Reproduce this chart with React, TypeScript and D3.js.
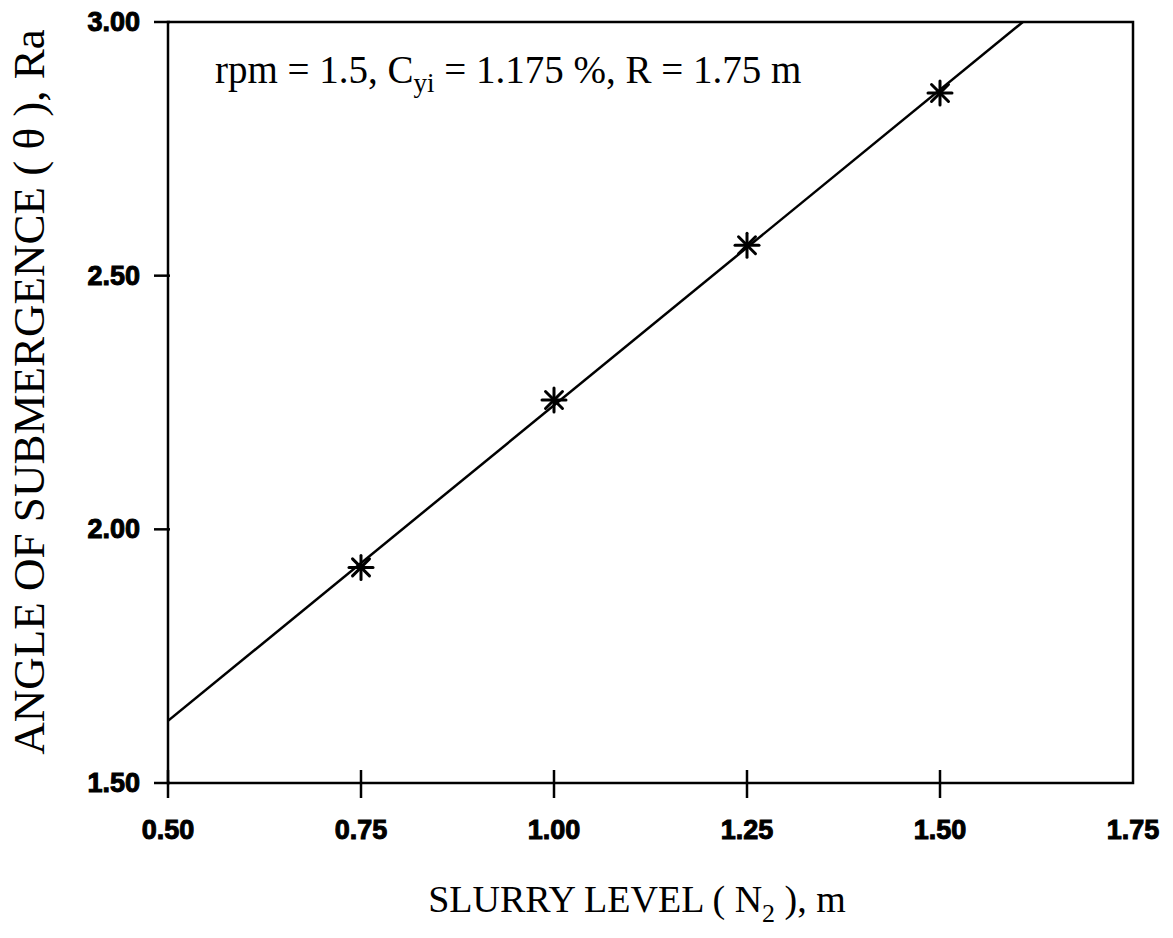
import * as d3 from "d3";

// measured points: slurry level (m) vs angle of submergence (Ra)
const slurryLevel = [0.75, 1.0, 1.25, 1.5];
const angleRa = [1.925, 2.255, 2.56, 2.86];

const xTicks = [0.5, 0.75, 1.0, 1.25, 1.5, 1.75];
const yTicks = [1.5, 2.0, 2.5, 3.0];

const W = 1173;
const H = 938;

export default function App() {
  const x = d3.scaleLinear().domain([0.5, 1.75]).range([168, 1133]);
  const y = d3.scaleLinear().domain([1.5, 3.0]).range([783, 22]);

  // least squares fit through the points
  const mx = d3.mean(slurryLevel) as number;
  const my = d3.mean(angleRa) as number;
  const sxy = d3.sum(slurryLevel, (v, i) => (v - mx) * (angleRa[i] - my));
  const sxx = d3.sum(slurryLevel, (v) => (v - mx) ** 2);
  const slope = sxy / sxx;
  const icpt = my - slope * mx;
  const x0 = 0.5;
  const x1 = (3.0 - icpt) / slope;
  const fitLine = d3.line<number>()
    .x((d) => x(d))
    .y((d) => y(icpt + slope * d))([x0, x1]);

  const tickFont = { fontFamily: "'Liberation Sans', Arial, sans-serif", fontWeight: 700, fontSize: 27 };
  const serif = "'Liberation Serif', 'Times New Roman', serif";
  const r = 12;

  return (
    <div style={{ position: "absolute", left: 0, top: 0 }}>
      <svg width={W} height={H} style={{ display: "block", background: "#fff" }}>
        <defs>
          <clipPath id="plot">
            <rect x={x(0.5)} y={y(3.0)} width={x(1.75) - x(0.5)} height={y(1.5) - y(3.0)} />
          </clipPath>
        </defs>

        {/* frame */}
        <rect
          x={x(0.5)}
          y={y(3.0)}
          width={x(1.75) - x(0.5)}
          height={y(1.5) - y(3.0)}
          fill="none"
          stroke="#000"
          strokeWidth={2.5}
        />

        {/* y ticks */}
        {yTicks.map((t) => (
          <g key={"y" + t}>
            <line x1={x(0.5) - 14} x2={x(0.5) + 2} y1={y(t)} y2={y(t)} stroke="#000" strokeWidth={2.5} />
            <text
              x={140}
              y={y(t)}
              textAnchor="end"
              dominantBaseline="central"
              stroke="#000"
              strokeWidth={1}
              style={tickFont}
            >
              {t.toFixed(2)}
            </text>
          </g>
        ))}

        {/* x ticks */}
        {xTicks.map((t) => (
          <g key={"x" + t}>
            {t < 1.75 && (
              <line x1={x(t)} x2={x(t)} y1={y(1.5) - 13} y2={y(1.5) + 15} stroke="#000" strokeWidth={2.5} />
            )}
            <text
              x={x(t)}
              y={830}
              textAnchor="middle"
              dominantBaseline="central"
              stroke="#000"
              strokeWidth={1}
              style={tickFont}
            >
              {t.toFixed(2)}
            </text>
          </g>
        ))}

        {/* fitted line */}
        <path d={fitLine ?? ""} fill="none" stroke="#000" strokeWidth={2.5} clipPath="url(#plot)" />

        {/* asterisk markers */}
        {slurryLevel.map((v, i) => {
          const cx = x(v);
          const cy = y(angleRa[i]);
          return (
            <g key={"p" + i} stroke="#000" strokeWidth={3} strokeLinecap="round">
              {[0, 45, 90, 135].map((a) => {
                const rad = (a * Math.PI) / 180;
                return (
                  <line
                    key={a}
                    x1={cx - r * Math.cos(rad)}
                    y1={cy - r * Math.sin(rad)}
                    x2={cx + r * Math.cos(rad)}
                    y2={cy + r * Math.sin(rad)}
                  />
                );
              })}
            </g>
          );
        })}

        {/* annotation */}
        <text x={215} y={83} fontFamily={serif} fontSize={39} fill="#000">
          rpm = 1.5, C
          <tspan fontSize={27} dy={9}>yi</tspan>
          <tspan dy={-9}> = 1.175 %, R = 1.75 m</tspan>
        </text>

        {/* axis titles */}
        <text x={637} y={912} textAnchor="middle" fontFamily={serif} fontSize={38} fill="#000">
          SLURRY LEVEL ( N
          <tspan fontSize={26} dy={10}>2</tspan>
          <tspan dy={-10}> ), m</tspan>
        </text>
        <text
          transform={`translate(44, 392) rotate(-90)`}
          textAnchor="middle"
          fontFamily={serif}
          fontSize={45}
          fill="#000"
        >
          ANGLE OF SUBMERGENCE ( θ ), Ra
        </text>
      </svg>
    </div>
  );
}
